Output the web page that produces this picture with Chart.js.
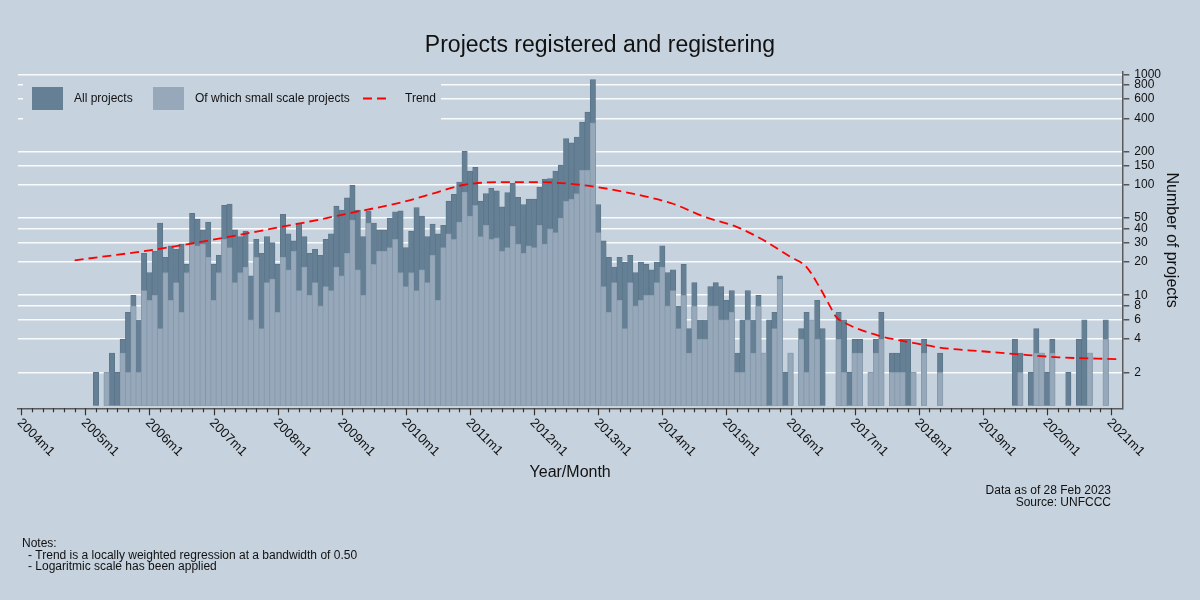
<!DOCTYPE html>
<html lang="en">
<head>
    <meta charset="UTF-8">
    <title>Projects registered and registering</title>
    <script src="https://cdn.jsdelivr.net/npm/chart.js"></script>
    <style>
        body { margin: 0; background: #c6d2de; }
        canvas { display: block; }
    </style>
</head>
<body>
<canvas id="projectChart" width="1200" height="600"></canvas>

<script>
    // months are counted from 2004m1 (= 0); bars start at 2005m1
    const startMonth = 12;
    const yearLabels = ['2004m1', '2005m1', '2006m1', '2007m1', '2008m1', '2009m1', '2010m1', '2011m1', '2012m1',
        '2013m1', '2014m1', '2015m1', '2016m1', '2017m1', '2018m1', '2019m1', '2020m1', '2021m1'];

    // All projects per month (null = none registered)
    const allProjects = [
        null, null, 2, null, 2, 3, 2, 4, 7, 10, 6, 24,          // 2005
        16, 25, 45, 22, 28, 26, 29, 19, 55, 49, 39, 46,          // 2006
        19, 23, 65, 67, 39, 34, 38, 15, 32, 24, 34, 30,          // 2007
        19, 54, 36, 31, 45, 34, 24, 26, 23, 32, 36, 64,          // 2008
        59, 76, 99, 59, 34, 58, 45, 39, 39, 50, 57, 58,          // 2009
        27, 38, 62, 52, 34, 44, 36, 43, 71, 82, 106, 201,        // 2010
        133, 144, 71, 83, 93, 88, 63, 85, 103, 77, 66, 74,       // 2011
        74, 95, 112, 114, 133, 151, 262, 240, 270, 368, 454, 895, // 2012
        66, 31, 22, 18, 22, 20, 23, 16, 20, 19, 17, 20,          // 2013
        28, 16, 17, 8, 19, 5, 13, 6, 6, 12, 13, 12,              // 2014
        9, 11, 3, 6, 11, 6, 10, 3, 6, 7, 15, 2,                  // 2015
        3, null, 5, 7, 6, 9, 5, null, null, 7, 6, 2,             // 2016
        4, 4, null, 2, 4, 7, null, 3, 3, 4, 4, 2,                // 2017
        null, 4, null, null, 3, null, null, null, null, null, null, null, // 2018
        null, null, null, null, null, null, 4, 3, null, 2, 5, 3, // 2019
        2, 4, null, null, 2, null, 4, 6, 3, null, null, 6        // 2020
    ];

    // Of which small scale projects
    const smallScale = [
        null, null, null, null, 2, null, null, 3, 2, 8, 2, 11,   // 2005
        9, 10, 5, 16, 9, 13, 7, 16, 29, 28, 29, 22,              // 2006
        9, 16, 32, 27, 13, 16, 18, 6, 22, 5, 13, 14,             // 2007
        7, 22, 17, 25, 11, 18, 10, 13, 8, 12, 11, 18,            // 2008
        15, 24, 48, 17, 10, 45, 19, 25, 25, 27, 32, 16,          // 2009
        12, 16, 11, 17, 13, 23, 9, 27, 36, 32, 46, 86,           // 2010
        52, 65, 34, 43, 32, 33, 25, 27, 42, 29, 24, 28,          // 2011
        27, 43, 29, 40, 37, 50, 71, 74, 83, 135, 135, 363,       // 2012
        37, 12, 7, 13, 9, 5, 13, 8, 9, 10, 10, 13,               // 2013
        18, 8, 11, 5, 10, 3, 8, 4, 4, 8, 8, 6,                   // 2014
        6, 7, 2, 2, 6, 3, 8, 3, null, 5, 14, null,               // 2015
        3, null, 4, 2, 6, 4, null, null, null, 4, 2, null,       // 2016
        3, 3, null, 2, 3, 4, null, 2, 2, 2, null, 2,             // 2017
        null, 3, null, null, 2, null, null, null, null, null, null, null, // 2018
        null, null, null, null, null, null, null, 2, null, null, 3, 3, // 2019
        null, 3, null, null, null, null, null, null, 3, null, null, 4  // 2020
    ];

    // lowess trend (month, value)
    const trendMonths = [10, 24, 37, 48, 54, 61, 71, 77, 83, 90, 97, 103, 108, 116, 122, 128, 134, 139, 144,
        147, 149.4, 151.3, 152.5, 154.4, 160.6, 166.9, 173.1, 179.4, 186.2, 194.3, 205];
    const trendValues = [20.7, 25.5, 32.5, 41, 46.5, 54.7, 69, 83, 100, 105.6, 105.6, 101.7, 95, 80, 67.3, 51,
        41.4, 31.4, 22.2, 18, 11.9, 8.1, 6.4, 5.55, 4.29, 3.71, 3.3, 3.12, 2.93, 2.74, 2.64];

    const yTicks = [2, 4, 6, 8, 10, 20, 30, 40, 50, 100, 150, 200, 400, 600, 800, 1000];

    const bgColor = '#c6d2de';
    const darkColor = '#658094';
    const lightColor = '#96a8b9';
    const fontFamily = "'Liberation Sans', Arial, sans-serif";

    const toPoints = arr => arr.map((v, i) => ({ x: startMonth + i, y: v }));
    const trendPoints = trendMonths.map((m, i) => ({ x: m, y: trendValues[i] }));

    // background, legend box and all the loose text
    const decorPlugin = {
        id: 'decor',
        beforeDraw(chart) {
            const ctx = chart.ctx;
            ctx.save();
            ctx.fillStyle = bgColor;
            ctx.fillRect(0, 0, chart.width, chart.height);
            ctx.restore();
        },
        beforeDatasetsDraw(chart) {
            const ctx = chart.ctx;
            ctx.save();
            ctx.fillStyle = bgColor;
            ctx.fillRect(23, 78, 418, 43);

            ctx.fillStyle = darkColor;
            ctx.fillRect(32, 87, 31, 23);
            ctx.fillStyle = lightColor;
            ctx.fillRect(153, 87, 31, 23);

            ctx.strokeStyle = '#ff0000';
            ctx.lineWidth = 1.8;
            ctx.setLineDash([9, 5]);
            ctx.beginPath();
            ctx.moveTo(363, 98.5);
            ctx.lineTo(390, 98.5);
            ctx.stroke();
            ctx.setLineDash([]);

            ctx.fillStyle = '#111';
            ctx.font = '12px ' + fontFamily;
            ctx.textBaseline = 'middle';
            ctx.textAlign = 'left';
            ctx.fillText('All projects', 74, 99);
            ctx.fillText('Of which small scale projects', 195, 99);
            ctx.fillText('Trend', 405, 99);
            ctx.restore();
        },
        afterDraw(chart) {
            const ctx = chart.ctx;
            const xs = chart.scales.x;
            const axisY = chart.chartArea.bottom;
            ctx.save();

            // x ticks: long at each January, short every second month
            ctx.strokeStyle = '#333';
            ctx.lineWidth = 1.2;
            for (let m = 0; m <= 204; m += 2) {
                const px = Math.round(xs.getPixelForValue(m)) + 0.5;
                ctx.beginPath();
                ctx.moveTo(px, axisY);
                ctx.lineTo(px, axisY + (m % 12 === 0 ? 7 : 4));
                ctx.stroke();
            }

            // rotated year labels
            ctx.fillStyle = '#111';
            ctx.font = '13px ' + fontFamily;
            ctx.textAlign = 'left';
            ctx.textBaseline = 'middle';
            yearLabels.forEach((lbl, i) => {
                const px = xs.getPixelForValue(i * 12);
                ctx.save();
                ctx.translate(px - 2, axisY + 12.5);
                ctx.rotate(Math.PI / 4);
                ctx.fillText(lbl, 0, 0);
                ctx.restore();
            });

            // title
            ctx.font = '23px ' + fontFamily;
            ctx.textAlign = 'center';
            ctx.fillText('Projects registered and registering', 600, 46);

            // source
            ctx.font = '12px ' + fontFamily;
            ctx.textAlign = 'right';
            ctx.fillText('Data as of 28 Feb 2023', 1111, 490.5);
            ctx.fillText('Source: UNFCCC', 1111, 502.5);

            // notes
            ctx.textAlign = 'left';
            ctx.fillText('Notes:', 22, 544);
            ctx.fillText('- Trend is a locally weighted regression at a bandwidth of 0.50', 28, 555.5);
            ctx.fillText('- Logaritmic scale has been applied', 28, 567);
            ctx.restore();
        }
    };

    const chart = new Chart(document.getElementById('projectChart'), {
        type: 'bar',
        data: {
            datasets: [
                {
                    type: 'line',
                    label: 'Trend',
                    data: trendPoints,
                    borderColor: '#ff0000',
                    borderWidth: 1.8,
                    borderDash: [9, 5],
                    pointRadius: 0,
                    cubicInterpolationMode: 'monotone',
                    order: 0
                },
                {
                    label: 'Of which small scale projects',
                    data: toPoints(smallScale),
                    backgroundColor: lightColor,
                    borderColor: '#889cae',
                    borderWidth: 0.8,
                    base: 1,
                    grouped: false,
                    barPercentage: 1,
                    categoryPercentage: 1,
                    order: 1
                },
                {
                    label: 'All projects',
                    data: toPoints(allProjects),
                    backgroundColor: darkColor,
                    borderColor: '#5a7488',
                    borderWidth: 0.8,
                    base: 1,
                    grouped: false,
                    barPercentage: 1,
                    categoryPercentage: 1,
                    order: 2
                }
            ]
        },
        options: {
            responsive: false,
            animation: false,
            layout: { padding: { left: 18, top: 72, right: 0, bottom: 0 } },
            plugins: {
                legend: { display: false },
                tooltip: { enabled: false }
            },
            scales: {
                x: {
                    type: 'linear',
                    offset: false,
                    min: -0.6,
                    max: 206.1,
                    afterFit: s => { s.height = 191.7; },
                    grid: { display: false, offset: false },
                    border: { display: true, color: '#5a5a5a', width: 1.5 },
                    ticks: { display: false },
                    title: {
                        display: true,
                        text: 'Year/Month',
                        color: '#111',
                        font: { family: fontFamily, size: 16 },
                        padding: { top: 0, bottom: 118 }
                    }
                },
                y: {
                    type: 'logarithmic',
                    position: 'right',
                    min: 0.947,
                    max: 1049,
                    afterFit: s => { s.width = 77.7; },
                    afterBuildTicks: s => { s.ticks = yTicks.map(v => ({ value: v })); },
                    grid: {
                        color: 'rgba(255,255,255,0.9)',
                        lineWidth: 1.5,
                        tickColor: '#555',
                        tickLength: 7
                    },
                    border: { display: true, color: '#5a5a5a', width: 1.5 },
                    ticks: {
                        autoSkip: false,
                        padding: 5,
                        color: '#111',
                        font: { family: fontFamily, size: 12 },
                        callback: v => String(v)
                    },
                    title: {
                        display: true,
                        text: 'Number of projects',
                        color: '#111',
                        font: { family: fontFamily, size: 16 },
                        padding: { top: 19, bottom: 0 }
                    }
                }
            }
        },
        plugins: [decorPlugin]
    });
</script>
</body>
</html>
